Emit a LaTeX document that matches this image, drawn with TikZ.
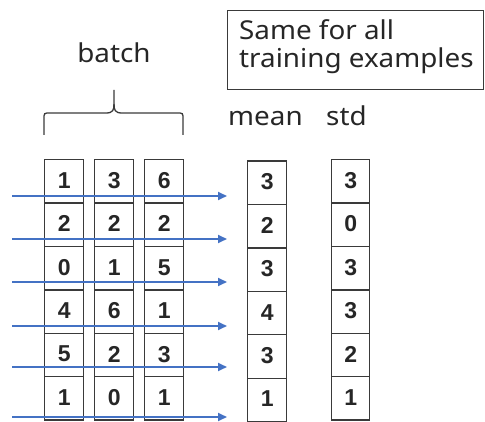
\documentclass[tikz,border=0pt]{standalone}
\usepackage{fontspec}
\setmainfont{Noto Sans}[FakeStretch=1.07]
\newfontfamily\numfont{Liberation Sans}
\usetikzlibrary{arrows.meta}
\definecolor{arrowblue}{HTML}{4472C4}
\definecolor{edgegray}{HTML}{3A3A3A}
\tikzset{
  cell/.style={draw=edgegray, line width=1.4pt, rectangle, inner sep=0pt,
    minimum width=39pt, minimum height=43.4pt, anchor=north west,
    font=\numfont\fontsize{23pt}{26pt}\selectfont\bfseries, text=black!85},
  lbl/.style={font=\fontsize{26pt}{28pt}\selectfont, text=black!85, inner sep=0pt},
  flow/.style={draw=arrowblue, line width=2pt, -{Triangle[length=9pt,width=8pt]}},
  bracket/.style={draw=edgegray, line width=1.3pt}
}
\begin{document}
\begin{tikzpicture}[x=1pt,y=-1pt]
\useasboundingbox (0,0) rectangle (485,422);
% batch cells
\foreach \col/\x/\vals in {1/44/{1,2,0,4,5,1},2/94/{3,2,1,6,2,0},3/144/{6,2,5,1,3,1}}{
  \foreach \v [count=\r] in \vals {
    \node[cell] (b\col\r) at (\x,{159+(\r-1)*43.4}) {\raisebox{2pt}{\v}};
  }
}
% mean cells
\foreach \v [count=\r] in {3,2,3,4,3,1} {
  \node[cell] (m\r) at (247,{160.5+(\r-1)*43.4}) {\raisebox{2pt}{\v}};
}
% std cells
\foreach \v [count=\r] in {3,0,3,3,2,1} {
  \node[cell, minimum width=38pt] (s\r) at (331,{159+(\r-1)*43.4}) {\raisebox{2pt}{\v}};
}
% arrows
\foreach \y [count=\r] in {196,239,282,326,367,417} {
  \coordinate (a\r) at (12,\y);
  \coordinate (e\r) at (227,\y);
  \draw[flow] (a\r) -- (e\r);
}
% brace
\coordinate (bl) at (44,135);
\coordinate (br) at (183,135);
\coordinate (bt) at (114,90);
\draw[bracket] (bl) -- (44,119) .. controls (44,113) .. (50,113) -- (106,113)
  .. controls (113,113) and (114,110) .. (114,104) -- (bt);
\draw[bracket] (br) -- (183,119) .. controls (183,113) .. (177,113) -- (122,113)
  .. controls (115,113) and (114,110) .. (114,104);
% labels
\node[lbl, anchor=base] (batch) at (114,63) {batch};
\node[lbl, anchor=base west] (mean) at (228,126) {mean};
\node[lbl, anchor=base west] (std) at (326,126) {std};
% note box
\node[draw=edgegray, line width=1.3pt, rectangle, inner sep=0pt, anchor=north west,
  minimum width=256pt, minimum height=79pt] (note) at (227,10) {};
\node[lbl, anchor=base west, align=left] (notetext1) at (239,40) {Same for all};
\node[lbl, anchor=base west, align=left] (notetext2) at (239,68) {training examples};
\end{tikzpicture}
\end{document}
